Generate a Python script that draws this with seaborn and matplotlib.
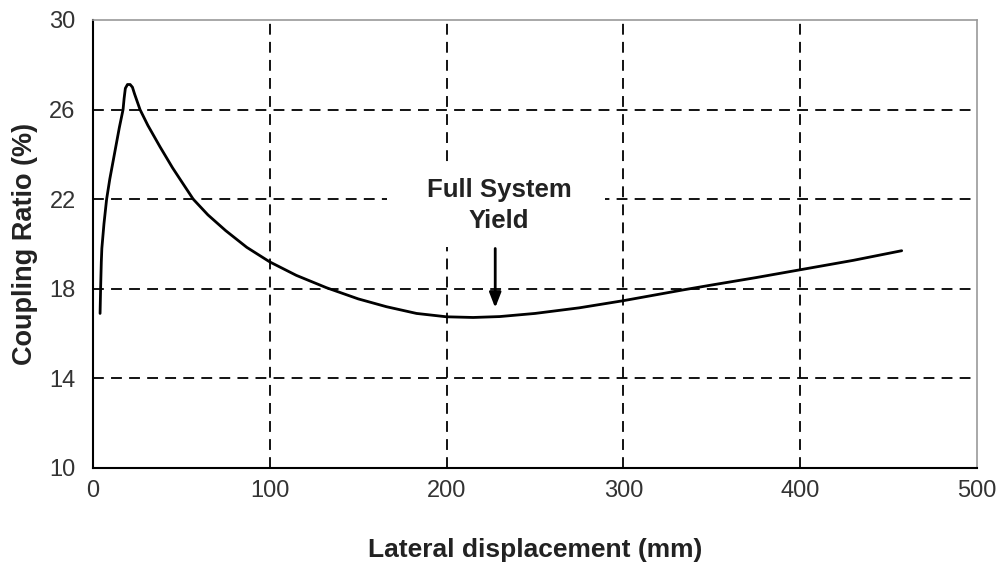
import matplotlib
matplotlib.use("Agg")
import matplotlib.pyplot as plt
from matplotlib.patches import Rectangle
import seaborn as sns
import pandas as pd

# Data
displacement_mm = [4.0, 4.3, 4.7, 5.0, 6.2, 7.7, 9.5, 11.5, 14.9, 17.0, 17.6, 18.3,
                   19.5, 21.0, 22.3, 23.5, 26.6, 31.0, 37.9, 45.0, 50.0, 56.7, 65.0,
                   75.0, 87.0, 100.0, 115.0, 132.0, 150.0, 166.0, 183.0, 200.0,
                   215.0, 230.0, 250.0, 275.0, 300.0, 333.7, 350.0, 375.0, 400.0,
                   430.0, 457.4]
coupling_ratio = [16.9, 18.0, 19.2, 19.8, 20.9, 22.0, 22.9, 23.75, 25.2, 26.0, 26.5,
                  26.95, 27.12, 27.12, 27.0, 26.7, 26.0, 25.3, 24.34, 23.4, 22.8,
                  22.0, 21.3, 20.6, 19.85, 19.2, 18.6, 18.05, 17.55, 17.2, 16.9,
                  16.75, 16.72, 16.76, 16.9, 17.15, 17.47, 17.95, 18.17, 18.5,
                  18.85, 19.27, 19.7]

x_ticks = [0, 100, 200, 300, 400, 500]
y_ticks = [10, 14, 18, 22, 26, 30]
annotation_text = "Full System\nYield"
annotation_xy = (227.5, 17.15)
annotation_tail = (227.5, 19.8)
annotation_text_xy = (229.6, 20.7)

df = pd.DataFrame({"Lateral displacement (mm)": displacement_mm,
                   "Coupling Ratio (%)": coupling_ratio})

sns.set_style("white")
plt.rcParams["font.family"] = ["Liberation Sans", "DejaVu Sans"]

fig = plt.figure(figsize=(10.03, 5.66), dpi=100)
ax = fig.add_axes([93 / 1003, 98 / 566, (977 - 93) / 1003, (468 - 20) / 566])

sns.lineplot(data=df, x="Lateral displacement (mm)", y="Coupling Ratio (%)",
             ax=ax, color="black", linewidth=2.0, sort=False, estimator=None,
             zorder=4)

ax.set_xlim(0, 500)
ax.set_ylim(10, 30)
ax.set_xticks(x_ticks)
ax.set_yticks(y_ticks)
ax.set_xticklabels([str(t) for t in x_ticks], fontsize=17, color="#333333")
ax.set_yticklabels([str(t) for t in y_ticks], fontsize=17, color="#333333")

ax.tick_params(axis="both", direction="inout", length=9, width=1.3, color="black")
ax.tick_params(axis="x", pad=4)
ax.tick_params(axis="y", pad=8)

# dashed grid lines (not on the frame edges)
for xv in x_ticks[1:-1]:
    ax.axvline(xv, color="black", linestyle=(0, (6, 4)), linewidth=1.3, zorder=1)
for yv in y_ticks[1:-1]:
    ax.axhline(yv, color="black", linestyle=(0, (6, 4)), linewidth=1.3, zorder=1)

for side in ["left", "bottom"]:
    ax.spines[side].set_color("black")
    ax.spines[side].set_linewidth(1.5)
for side in ["top", "right"]:
    ax.spines[side].set_color("#999999")
    ax.spines[side].set_linewidth(1.2)

ax.set_xlabel("Lateral displacement (mm)", fontsize=19, fontweight="bold",
              color="#222222", labelpad=26)
ax.set_ylabel("Coupling Ratio (%)", fontsize=19.5, fontweight="bold",
              color="#222222", labelpad=8)

# white box behind annotation text (interrupts grid lines)
ax.add_patch(Rectangle((166.3, 19.87), 289.6 - 166.3, 23.6 - 19.87,
                       facecolor="white", edgecolor="none", zorder=2))

ax.annotate("", xy=annotation_xy, xytext=annotation_tail,
            arrowprops=dict(arrowstyle="-|>,head_width=0.35,head_length=0.9",
                            color="black", lw=2.0, shrinkA=0, shrinkB=0),
            zorder=5)
ax.text(annotation_text_xy[0], annotation_text_xy[1], annotation_text,
        ha="center", va="baseline", fontsize=18.5, fontweight="bold",
        color="#222222", linespacing=1.4, zorder=5)

fig.savefig("out.png", dpi=100, facecolor="white")
